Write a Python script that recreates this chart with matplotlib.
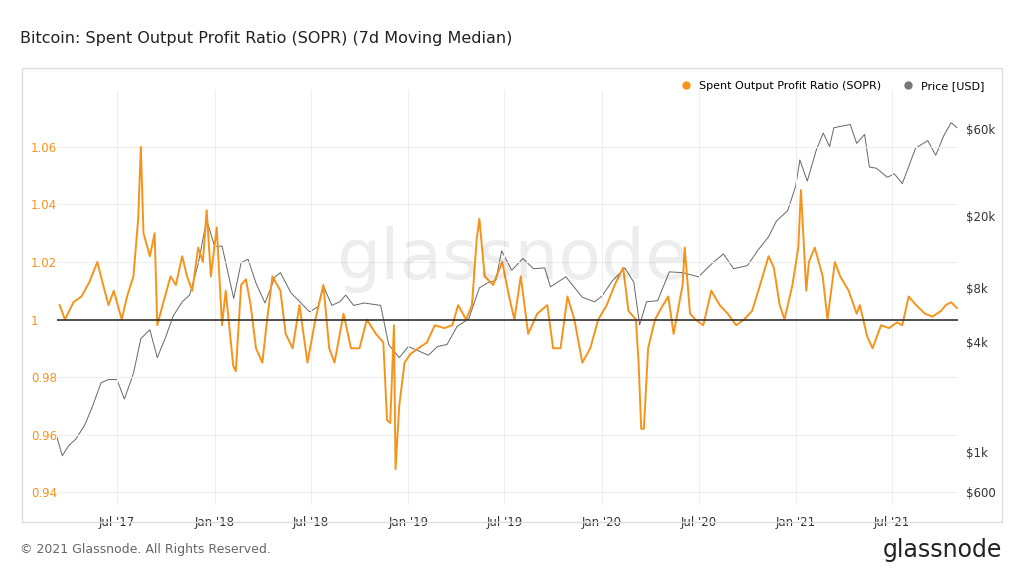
import matplotlib
matplotlib.use('Agg')
import matplotlib.pyplot as plt
import matplotlib.dates as mdates
import matplotlib.ticker as ticker
import numpy as np
import pandas as pd

price_dates = ['2017-03-10', '2017-03-20', '2017-04-01', '2017-04-15', '2017-05-01', '2017-05-15', '2017-06-01',
               '2017-06-15', '2017-07-01', '2017-07-15', '2017-08-01', '2017-08-15', '2017-09-01', '2017-09-15',
               '2017-10-01', '2017-10-15', '2017-11-01', '2017-11-15', '2017-12-01', '2017-12-17', '2018-01-01',
               '2018-01-15', '2018-02-06', '2018-02-20', '2018-03-05', '2018-03-20', '2018-04-06', '2018-04-25',
               '2018-05-05', '2018-05-25', '2018-06-15', '2018-06-29', '2018-07-15', '2018-07-25', '2018-08-10',
               '2018-08-25', '2018-09-05', '2018-09-20', '2018-10-10', '2018-11-10', '2018-11-25', '2018-12-15',
               '2019-01-01', '2019-01-20', '2019-02-08', '2019-02-25', '2019-03-15', '2019-04-03', '2019-04-25',
               '2019-05-15', '2019-05-30', '2019-06-15', '2019-06-26', '2019-07-15', '2019-08-05', '2019-08-25',
               '2019-09-15', '2019-09-26', '2019-10-25', '2019-11-25', '2019-12-18', '2020-01-01', '2020-01-20',
               '2020-02-13', '2020-03-01', '2020-03-12', '2020-03-25', '2020-04-15', '2020-05-07', '2020-06-01',
               '2020-07-01', '2020-07-28', '2020-08-17', '2020-09-05', '2020-10-01', '2020-10-21', '2020-11-10',
               '2020-11-25', '2020-12-16', '2020-12-31', '2021-01-08', '2021-01-22', '2021-02-08', '2021-02-21',
               '2021-03-05', '2021-03-13', '2021-04-13', '2021-04-25', '2021-05-10', '2021-05-19', '2021-06-01',
               '2021-06-22', '2021-07-05', '2021-07-20', '2021-08-14', '2021-09-06', '2021-09-21', '2021-10-06',
               '2021-10-20', '2021-10-31']
price = [1200, 950, 1080, 1180, 1400, 1750, 2400, 2500, 2500, 1950, 2700, 4200, 4700, 3300, 4300, 5600, 6700,
         7300, 10800, 19000, 13500, 13600, 7000, 11000, 11500, 8500, 6600, 9200, 9700, 7500, 6500, 5900, 6300,
         8200, 6400, 6700, 7300, 6400, 6600, 6400, 3900, 3300, 3800, 3600, 3400, 3800, 3900, 4900, 5400, 8000,
         8500, 8800, 12800, 10000, 11600, 10200, 10300, 8100, 9200, 7100, 6700, 7200, 8700, 10300, 8600, 5000,
         6700, 6800, 9800, 9700, 9200, 11000, 12300, 10200, 10600, 12900, 15300, 18700, 21300, 29000, 40500,
         31000, 46000, 57000, 48000, 61000, 63500, 50000, 56000, 37000, 36500, 32500, 34000, 30000, 47000, 51800,
         43000, 55000, 65000, 61000]

sopr_dates = ['2017-03-15', '2017-03-25', '2017-04-10', '2017-04-25', '2017-05-10', '2017-05-25', '2017-06-05',
              '2017-06-15', '2017-06-25', '2017-07-10', '2017-07-20', '2017-08-01', '2017-08-10', '2017-08-15',
              '2017-08-20', '2017-09-01', '2017-09-10', '2017-09-15', '2017-09-25', '2017-10-10', '2017-10-20',
              '2017-11-01', '2017-11-10', '2017-11-20', '2017-12-01', '2017-12-10', '2017-12-17', '2017-12-25',
              '2018-01-05', '2018-01-15', '2018-01-22', '2018-02-05', '2018-02-10', '2018-02-20', '2018-03-01',
              '2018-03-10', '2018-03-20', '2018-04-01', '2018-04-10', '2018-04-20', '2018-05-05', '2018-05-15',
              '2018-05-28', '2018-06-10', '2018-06-25', '2018-07-10', '2018-07-25', '2018-08-05', '2018-08-15',
              '2018-09-01', '2018-09-15', '2018-10-01', '2018-10-15', '2018-11-01', '2018-11-15', '2018-11-22',
              '2018-11-28', '2018-12-05', '2018-12-08', '2018-12-15', '2018-12-25', '2019-01-05', '2019-01-20',
              '2019-02-05', '2019-02-20', '2019-03-10', '2019-03-25', '2019-04-05', '2019-04-20', '2019-05-01',
              '2019-05-10', '2019-05-15', '2019-05-25', '2019-06-10', '2019-06-27', '2019-07-10', '2019-07-20',
              '2019-08-01', '2019-08-15', '2019-09-01', '2019-09-20', '2019-10-01', '2019-10-15', '2019-10-28',
              '2019-11-10', '2019-11-25', '2019-12-10', '2019-12-25', '2020-01-10', '2020-01-25', '2020-02-10',
              '2020-02-20', '2020-03-05', '2020-03-10', '2020-03-15', '2020-03-20', '2020-03-28', '2020-04-10',
              '2020-04-25', '2020-05-05', '2020-05-15', '2020-06-01', '2020-06-05', '2020-06-15', '2020-06-25',
              '2020-07-10', '2020-07-25', '2020-08-10', '2020-08-25', '2020-09-10', '2020-09-25', '2020-10-10',
              '2020-10-25', '2020-11-10', '2020-11-20', '2020-12-01', '2020-12-10', '2020-12-25', '2021-01-05',
              '2021-01-10', '2021-01-20', '2021-01-25', '2021-02-05', '2021-02-20', '2021-03-01', '2021-03-15',
              '2021-03-25', '2021-04-10', '2021-04-25', '2021-05-01', '2021-05-15', '2021-05-25', '2021-06-10',
              '2021-06-25', '2021-07-10', '2021-07-20', '2021-08-01', '2021-08-15', '2021-09-01', '2021-09-15',
              '2021-10-01', '2021-10-10', '2021-10-20', '2021-10-31']
sopr = [1.005, 1.0, 1.006, 1.008, 1.013, 1.02, 1.012, 1.005, 1.01, 1.0, 1.008, 1.015, 1.035, 1.06, 1.03, 1.022,
        1.03, 0.998, 1.005, 1.015, 1.012, 1.022, 1.015, 1.01, 1.025, 1.02, 1.038, 1.015, 1.032, 0.998, 1.01,
        0.984, 0.982, 1.012, 1.014, 1.005, 0.99, 0.985, 1.0, 1.015, 1.01, 0.995, 0.99, 1.005, 0.985, 1.0, 1.012,
        0.99, 0.985, 1.002, 0.99, 0.99, 1.0, 0.995, 0.992, 0.965, 0.964, 0.998, 0.948, 0.97, 0.985, 0.988, 0.99,
        0.992, 0.998, 0.997, 0.998, 1.005, 1.0, 1.005, 1.028, 1.035, 1.015, 1.012, 1.02, 1.008, 1.0, 1.015, 0.995,
        1.002, 1.005, 0.99, 0.99, 1.008, 1.0, 0.985, 0.99, 1.0, 1.005, 1.012, 1.018, 1.003, 1.0, 0.985, 0.962,
        0.962, 0.99, 1.0, 1.005, 1.008, 0.995, 1.012, 1.025, 1.002, 1.0, 0.998, 1.01, 1.005, 1.002, 0.998, 1.0,
        1.003, 1.012, 1.022, 1.018, 1.005, 1.0, 1.012, 1.025, 1.045, 1.01, 1.02, 1.025, 1.015, 1.0, 1.02, 1.015,
        1.01, 1.002, 1.005, 0.994, 0.99, 0.998, 0.997, 0.999, 0.998, 1.008, 1.005, 1.002, 1.001, 1.003, 1.005,
        1.006, 1.004]

pd_price = pd.to_datetime(price_dates)
pd_sopr = pd.to_datetime(sopr_dates)

orange = '#f7931a'
fig = plt.figure(figsize=(10.24, 5.76), dpi=100)
fig.patches.append(plt.Rectangle((22 / 1024, 1 - 522 / 576), 980 / 1024, 454 / 576, transform=fig.transFigure,
                                 fill=False, edgecolor='#dddddd', linewidth=1))
ax = fig.add_axes([57 / 1024, 1 - 505 / 576, 901 / 1024, 415 / 576])
ax2 = ax.twinx()

ax.plot(pd_sopr, sopr, color=orange, linewidth=1.4, zorder=3)
ax.axhline(1, color='#333333', linewidth=1.2, zorder=4)
ax2.plot(pd_price, price, color='#666666', linewidth=0.7)
ax.set_zorder(ax2.get_zorder() + 1)
ax.patch.set_visible(False)

ax.set_ylim(0.9355, 1.0798)
ax2.set_yscale('log')
ax2.set_ylim(509, 98400)
ax.set_xlim(pd.Timestamp('2017-03-10'), pd.Timestamp('2021-11-02'))

ax.set_yticks([0.94, 0.96, 0.98, 1.0, 1.02, 1.04, 1.06])
ax.set_yticklabels(['0.94', '0.96', '0.98', '1', '1.02', '1.04', '1.06'])
ax2.yaxis.set_minor_locator(ticker.NullLocator())
ax2.set_yticks([600, 1000, 4000, 8000, 20000, 60000])
ax2.set_yticklabels(['$600', '$1k', '$4k', '$8k', '$20k', '$60k'])
ax.xaxis.set_major_locator(mdates.MonthLocator(bymonth=[1, 7]))
ax.xaxis.set_major_formatter(mdates.DateFormatter("%b '%y"))

for a in (ax, ax2):
    for s in a.spines.values():
        s.set_visible(False)
    a.tick_params(length=0, labelsize=8.5)
ax.tick_params(axis='y', colors=orange, labelcolor=orange, pad=-2)
for lbl in ax.get_yticklabels():
    lbl.set_horizontalalignment('left')
    lbl.set_x(-0.032)
ax.tick_params(axis='x', colors='#333333', pad=8)
ax2.tick_params(axis='y', colors='#333333', pad=6)
ax.grid(True, axis='both', color='#eeeeee', linewidth=0.8)

fig.text(20 / 1024, 1 - 38 / 576, 'Bitcoin: Spent Output Profit Ratio (SOPR) (7d Moving Median)', fontsize=11.5,
         va='center', color='#222222')
fig.text(20 / 1024, 1 - 550 / 576, '© 2021 Glassnode. All Rights Reserved.', fontsize=9, va='center', color='#666666')
fig.text(1002 / 1024, 1 - 550 / 576, 'glassnode', fontsize=17, va='center', ha='right', color='#222222')
fig.text(0.5, 0.55, 'glassnode', fontsize=50, ha='center', va='center', color='#000000', alpha=0.07)

ax.plot([], [], 'o', color=orange, markersize=5, label='Spent Output Profit Ratio (SOPR)')
ax.plot([], [], 'o', color='#777777', markersize=5, label='Price [USD]')
ax.legend(loc='upper right', bbox_to_anchor=(1.04, 1.045), ncol=2, frameon=False, fontsize=8, handletextpad=0.1,
          columnspacing=1.5)

fig.savefig('out.png', dpi=100)
